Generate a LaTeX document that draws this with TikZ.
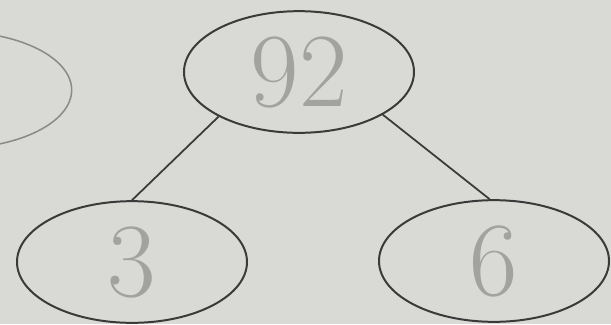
\documentclass[tikz,border=0pt]{standalone}
\usepackage{xcolor}
\usepackage{tikz}
\usetikzlibrary{
  shapes.geometric,
  positioning
}
\definecolor{tpPaper}{HTML}{D9D9D5}
\definecolor{tpInk}{HTML}{3A3A3A}
\definecolor{tpFaint}{HTML}{8A8A88}
\definecolor{tpPencil}{HTML}{A2A2A0}
\tikzset{
  treenode/.style={
    draw=tpInk, ellipse, line width=1.7pt, minimum width=69mm, minimum height=36.5mm,
    inner sep=0pt, text=tpPencil, font=\fontsize{90}{90}\selectfont
  },
  ghostnode/.style={treenode, draw=tpFaint, line width=1.3pt, minimum width=70mm, minimum height=35mm},
  edge/.style={draw=tpInk, line width=1.5pt}
}

\begin{document}
\begin{tikzpicture}[x=0.3mm, y=-0.3mm]
  \fill[tpPaper] (0,0) rectangle (611,324);
  \useasboundingbox (0,0) rectangle (611,324);
  \clip (0,0) rectangle (611,324);
  % nodes
  \node[ghostnode] (prev) at (-45,90) {};
  \node[treenode] (root) at (299,72) {92};
  \node[treenode] (lchild) at (132,262) {3};
  \node[treenode] (rchild) at (494,261) {6};
  % edges
  \draw[edge] (root.209) -- (lchild.90);
  \draw[edge] (root.333) -- (rchild.94);
\end{tikzpicture}
\end{document}
